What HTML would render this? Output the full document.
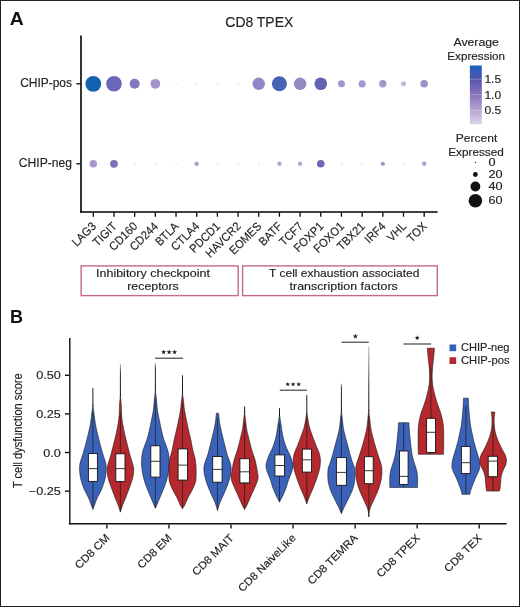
<!DOCTYPE html>
<html><head><meta charset="utf-8"><style>
html,body{margin:0;padding:0;background:#fff;}
#fig{position:relative;width:520px;height:607px;box-sizing:border-box;border:1px solid #222;overflow:hidden;}
svg{position:absolute;left:-1px;top:-1px;will-change:transform;}
text{font-family:"Liberation Sans",sans-serif;}
</style></head><body><div id="fig">
<svg width="520" height="607" viewBox="0 0 520 607" font-family="Liberation Sans, sans-serif">
<text x="259.30" y="26.90" font-size="15.1" text-anchor="middle" fill="#222" textLength="68" lengthAdjust="spacingAndGlyphs" stroke="#222" stroke-width="0.15">CD8 TPEX</text>
<text x="9.80" y="24.90" font-size="18.5" text-anchor="start" fill="#111" font-weight="bold" textLength="14.0" lengthAdjust="spacingAndGlyphs">A</text>
<line x1="81.00" y1="35.50" x2="81.00" y2="212.80" stroke="#000" stroke-width="1.6"/>
<line x1="80.20" y1="212.00" x2="437.60" y2="212.00" stroke="#000" stroke-width="1.5"/>
<line x1="76.40" y1="83.80" x2="80.20" y2="83.80" stroke="#000" stroke-width="1.3"/>
<text x="72.00" y="87.35" font-size="12.2" text-anchor="end" fill="#222" textLength="51.8" lengthAdjust="spacingAndGlyphs" stroke="#222" stroke-width="0.15">CHIP-pos</text>
<line x1="76.40" y1="163.80" x2="80.20" y2="163.80" stroke="#000" stroke-width="1.3"/>
<text x="72.00" y="167.35" font-size="12.2" text-anchor="end" fill="#222" textLength="53.2" lengthAdjust="spacingAndGlyphs" stroke="#222" stroke-width="0.15">CHIP-neg</text>
<line x1="93.30" y1="212.60" x2="93.30" y2="216.70" stroke="#000" stroke-width="1.3"/>
<line x1="113.98" y1="212.60" x2="113.98" y2="216.70" stroke="#000" stroke-width="1.3"/>
<line x1="134.66" y1="212.60" x2="134.66" y2="216.70" stroke="#000" stroke-width="1.3"/>
<line x1="155.34" y1="212.60" x2="155.34" y2="216.70" stroke="#000" stroke-width="1.3"/>
<line x1="176.02" y1="212.60" x2="176.02" y2="216.70" stroke="#000" stroke-width="1.3"/>
<line x1="196.70" y1="212.60" x2="196.70" y2="216.70" stroke="#000" stroke-width="1.3"/>
<line x1="217.38" y1="212.60" x2="217.38" y2="216.70" stroke="#000" stroke-width="1.3"/>
<line x1="238.06" y1="212.60" x2="238.06" y2="216.70" stroke="#000" stroke-width="1.3"/>
<line x1="258.74" y1="212.60" x2="258.74" y2="216.70" stroke="#000" stroke-width="1.3"/>
<line x1="279.42" y1="212.60" x2="279.42" y2="216.70" stroke="#000" stroke-width="1.3"/>
<line x1="300.10" y1="212.60" x2="300.10" y2="216.70" stroke="#000" stroke-width="1.3"/>
<line x1="320.78" y1="212.60" x2="320.78" y2="216.70" stroke="#000" stroke-width="1.3"/>
<line x1="341.46" y1="212.60" x2="341.46" y2="216.70" stroke="#000" stroke-width="1.3"/>
<line x1="362.14" y1="212.60" x2="362.14" y2="216.70" stroke="#000" stroke-width="1.3"/>
<line x1="382.82" y1="212.60" x2="382.82" y2="216.70" stroke="#000" stroke-width="1.3"/>
<line x1="403.50" y1="212.60" x2="403.50" y2="216.70" stroke="#000" stroke-width="1.3"/>
<line x1="424.18" y1="212.60" x2="424.18" y2="216.70" stroke="#000" stroke-width="1.3"/>
<circle cx="93.30" cy="83.8" r="7.9" fill="#1262b0"/>
<circle cx="93.30" cy="163.8" r="3.75" fill="#a898cc"/>
<circle cx="113.98" cy="83.8" r="7.8" fill="#6a68b8"/>
<circle cx="113.98" cy="163.8" r="3.9" fill="#7872b8"/>
<circle cx="134.66" cy="83.8" r="5.0" fill="#8477c0"/>
<circle cx="134.66" cy="163.8" r="0.8" fill="#d6d2e2"/>
<circle cx="155.34" cy="83.8" r="4.9" fill="#a494cc"/>
<circle cx="155.34" cy="163.8" r="0.8" fill="#d6d2e2"/>
<circle cx="176.02" cy="83.8" r="0.8" fill="#d6d2e2"/>
<circle cx="176.02" cy="163.8" r="0.8" fill="#d6d2e2"/>
<circle cx="196.70" cy="83.8" r="0.8" fill="#d6d2e2"/>
<circle cx="196.70" cy="163.8" r="2.3" fill="#aaa6c6"/>
<circle cx="217.38" cy="83.8" r="0.8" fill="#d6d2e2"/>
<circle cx="217.38" cy="163.8" r="0.8" fill="#d6d2e2"/>
<circle cx="238.06" cy="83.8" r="0.8" fill="#d6d2e2"/>
<circle cx="238.06" cy="163.8" r="0.8" fill="#d6d2e2"/>
<circle cx="258.74" cy="83.8" r="6.2" fill="#9485c4"/>
<circle cx="258.74" cy="163.8" r="0.8" fill="#d6d2e2"/>
<circle cx="279.42" cy="83.8" r="7.5" fill="#4863b3"/>
<circle cx="279.42" cy="163.8" r="2.2" fill="#b0a8cc"/>
<circle cx="300.10" cy="83.8" r="6.2" fill="#9687c5"/>
<circle cx="300.10" cy="163.8" r="2.2" fill="#b0a8cc"/>
<circle cx="320.78" cy="83.8" r="6.3" fill="#5e64b0"/>
<circle cx="320.78" cy="163.8" r="3.8" fill="#6c68b4"/>
<circle cx="341.46" cy="83.8" r="3.5" fill="#a696cc"/>
<circle cx="341.46" cy="163.8" r="0.8" fill="#d6d2e2"/>
<circle cx="362.14" cy="83.8" r="3.6" fill="#a696cc"/>
<circle cx="362.14" cy="163.8" r="0.8" fill="#d6d2e2"/>
<circle cx="382.82" cy="83.8" r="3.7" fill="#a696cc"/>
<circle cx="382.82" cy="163.8" r="2.1" fill="#9c98c0"/>
<circle cx="403.50" cy="83.8" r="2.5" fill="#c0bcd0"/>
<circle cx="403.50" cy="163.8" r="0.8" fill="#d6d2e2"/>
<circle cx="424.18" cy="83.8" r="3.8" fill="#a090c8"/>
<circle cx="424.18" cy="163.8" r="2.2" fill="#a8a4c8"/>
<text x="96.80" y="227.00" font-size="11.8" text-anchor="end" fill="#222" textLength="28.36" lengthAdjust="spacingAndGlyphs" transform="rotate(-45 96.80 227.00)" stroke="#222" stroke-width="0.15">LAG3</text>
<text x="117.48" y="227.00" font-size="11.8" text-anchor="end" fill="#222" textLength="28.34" lengthAdjust="spacingAndGlyphs" transform="rotate(-45 117.48 227.00)" stroke="#222" stroke-width="0.15">TIGIT</text>
<text x="138.16" y="227.00" font-size="11.8" text-anchor="end" fill="#222" textLength="34.53" lengthAdjust="spacingAndGlyphs" transform="rotate(-45 138.16 227.00)" stroke="#222" stroke-width="0.15">CD160</text>
<text x="158.84" y="227.00" font-size="11.8" text-anchor="end" fill="#222" textLength="34.53" lengthAdjust="spacingAndGlyphs" transform="rotate(-45 158.84 227.00)" stroke="#222" stroke-width="0.15">CD244</text>
<text x="179.52" y="227.00" font-size="11.8" text-anchor="end" fill="#222" textLength="27.74" lengthAdjust="spacingAndGlyphs" transform="rotate(-45 179.52 227.00)" stroke="#222" stroke-width="0.15">BTLA</text>
<text x="200.20" y="227.00" font-size="11.8" text-anchor="end" fill="#222" textLength="34.52" lengthAdjust="spacingAndGlyphs" transform="rotate(-45 200.20 227.00)" stroke="#222" stroke-width="0.15">CTLA4</text>
<text x="220.88" y="227.00" font-size="11.8" text-anchor="end" fill="#222" textLength="37.6" lengthAdjust="spacingAndGlyphs" transform="rotate(-45 220.88 227.00)" stroke="#222" stroke-width="0.15">PDCD1</text>
<text x="241.56" y="227.00" font-size="11.8" text-anchor="end" fill="#222" textLength="44.17" lengthAdjust="spacingAndGlyphs" transform="rotate(-45 241.56 227.00)" stroke="#222" stroke-width="0.15">HAVCR2</text>
<text x="262.24" y="227.00" font-size="11.8" text-anchor="end" fill="#222" textLength="40.06" lengthAdjust="spacingAndGlyphs" transform="rotate(-45 262.24 227.00)" stroke="#222" stroke-width="0.15">EOMES</text>
<text x="282.92" y="227.00" font-size="11.8" text-anchor="end" fill="#222" textLength="27.52" lengthAdjust="spacingAndGlyphs" transform="rotate(-45 282.92 227.00)" stroke="#222" stroke-width="0.15">BATF</text>
<text x="303.60" y="227.00" font-size="11.8" text-anchor="end" fill="#222" textLength="27.73" lengthAdjust="spacingAndGlyphs" transform="rotate(-45 303.60 227.00)" stroke="#222" stroke-width="0.15">TCF7</text>
<text x="324.28" y="227.00" font-size="11.8" text-anchor="end" fill="#222" textLength="36.37" lengthAdjust="spacingAndGlyphs" transform="rotate(-45 324.28 227.00)" stroke="#222" stroke-width="0.15">FOXP1</text>
<text x="344.96" y="227.00" font-size="11.8" text-anchor="end" fill="#222" textLength="37.6" lengthAdjust="spacingAndGlyphs" transform="rotate(-45 344.96 227.00)" stroke="#222" stroke-width="0.15">FOXO1</text>
<text x="365.64" y="227.00" font-size="11.8" text-anchor="end" fill="#222" textLength="33.91" lengthAdjust="spacingAndGlyphs" transform="rotate(-45 365.64 227.00)" stroke="#222" stroke-width="0.15">TBX21</text>
<text x="386.32" y="227.00" font-size="11.8" text-anchor="end" fill="#222" textLength="24.03" lengthAdjust="spacingAndGlyphs" transform="rotate(-45 386.32 227.00)" stroke="#222" stroke-width="0.15">IRF4</text>
<text x="407.00" y="227.00" font-size="11.8" text-anchor="end" fill="#222" textLength="21.58" lengthAdjust="spacingAndGlyphs" transform="rotate(-45 407.00 227.00)" stroke="#222" stroke-width="0.15">VHL</text>
<text x="427.68" y="227.00" font-size="11.8" text-anchor="end" fill="#222" textLength="22.6" lengthAdjust="spacingAndGlyphs" transform="rotate(-45 427.68 227.00)" stroke="#222" stroke-width="0.15">TOX</text>
<rect x="81.15" y="265.9" width="157" height="29.7" fill="none" stroke="#c46a82" stroke-width="1.4"/>
<rect x="242.6" y="265.9" width="194.7" height="29.7" fill="none" stroke="#c46a82" stroke-width="1.4"/>
<text x="153.00" y="277.30" font-size="11.3" text-anchor="middle" fill="#222" textLength="114" lengthAdjust="spacingAndGlyphs" stroke="#222" stroke-width="0.15">Inhibitory checkpoint</text>
<text x="153.00" y="290.10" font-size="11.3" text-anchor="middle" fill="#222" textLength="51.5" lengthAdjust="spacingAndGlyphs" stroke="#222" stroke-width="0.15">receptors</text>
<text x="344.20" y="277.30" font-size="11.3" text-anchor="middle" fill="#222" textLength="150.2" lengthAdjust="spacingAndGlyphs" stroke="#222" stroke-width="0.15">T cell exhaustion associated</text>
<text x="343.70" y="290.10" font-size="11.3" text-anchor="middle" fill="#222" textLength="108.2" lengthAdjust="spacingAndGlyphs" stroke="#222" stroke-width="0.15">transcription factors</text>
<text x="476.20" y="46.20" font-size="11.2" text-anchor="middle" fill="#222" textLength="45.5" lengthAdjust="spacingAndGlyphs" stroke="#222" stroke-width="0.15">Average</text>
<text x="476.20" y="60.00" font-size="11.2" text-anchor="middle" fill="#222" textLength="57.7" lengthAdjust="spacingAndGlyphs" stroke="#222" stroke-width="0.15">Expression</text>
<defs><linearGradient id="cb" x1="0" y1="1" x2="0" y2="0"><stop offset="0" stop-color="#dcd6e8"/><stop offset="0.229" stop-color="#bba6d4"/><stop offset="0.5" stop-color="#8a74bc"/><stop offset="0.77" stop-color="#5656ae"/><stop offset="1" stop-color="#1660bc"/></linearGradient></defs>
<rect x="469.9" y="65.5" width="11.9" height="58.8" fill="url(#cb)"/>
<line x1="469.9" y1="79.3" x2="481.8" y2="79.3" stroke="#fff" stroke-opacity="0.3" stroke-width="0.8"/>
<text x="484.40" y="83.25" font-size="11.5" text-anchor="start" fill="#222" textLength="16.78" lengthAdjust="spacingAndGlyphs" stroke="#222" stroke-width="0.15">1.5</text>
<line x1="469.9" y1="94.6" x2="481.8" y2="94.6" stroke="#fff" stroke-opacity="0.3" stroke-width="0.8"/>
<text x="484.40" y="98.55" font-size="11.5" text-anchor="start" fill="#222" textLength="16.78" lengthAdjust="spacingAndGlyphs" stroke="#222" stroke-width="0.15">1.0</text>
<line x1="469.9" y1="110.5" x2="481.8" y2="110.5" stroke="#fff" stroke-opacity="0.3" stroke-width="0.8"/>
<text x="484.40" y="114.45" font-size="11.5" text-anchor="start" fill="#222" textLength="16.78" lengthAdjust="spacingAndGlyphs" stroke="#222" stroke-width="0.15">0.5</text>
<text x="476.60" y="141.60" font-size="11.2" text-anchor="middle" fill="#222" textLength="41.5" lengthAdjust="spacingAndGlyphs" stroke="#222" stroke-width="0.15">Percent</text>
<text x="476.00" y="155.80" font-size="11.2" text-anchor="middle" fill="#222" textLength="55.7" lengthAdjust="spacingAndGlyphs" stroke="#222" stroke-width="0.15">Expressed</text>
<circle cx="475.4" cy="162.4" r="0.6" fill="#111"/>
<text x="488.50" y="166.10" font-size="10.6" text-anchor="start" fill="#222" textLength="7.07" lengthAdjust="spacingAndGlyphs" stroke="#222" stroke-width="0.15">0</text>
<circle cx="475.4" cy="174.5" r="2.4" fill="#111"/>
<text x="488.50" y="178.20" font-size="10.6" text-anchor="start" fill="#222" textLength="14.15" lengthAdjust="spacingAndGlyphs" stroke="#222" stroke-width="0.15">20</text>
<circle cx="475.4" cy="186.5" r="4.9" fill="#111"/>
<text x="488.50" y="190.20" font-size="10.6" text-anchor="start" fill="#222" textLength="14.15" lengthAdjust="spacingAndGlyphs" stroke="#222" stroke-width="0.15">40</text>
<circle cx="475.4" cy="200.7" r="6.8" fill="#111"/>
<text x="488.50" y="204.40" font-size="10.6" text-anchor="start" fill="#222" textLength="14.15" lengthAdjust="spacingAndGlyphs" stroke="#222" stroke-width="0.15">60</text>
<text x="9.90" y="322.60" font-size="17.9" text-anchor="start" fill="#111" font-weight="bold" textLength="13.0" lengthAdjust="spacingAndGlyphs">B</text>
<line x1="69.80" y1="338.00" x2="69.80" y2="524.40" stroke="#111" stroke-width="1.4"/>
<line x1="69.10" y1="523.70" x2="506.60" y2="523.70" stroke="#111" stroke-width="1.4"/>
<line x1="65.00" y1="375.30" x2="69.10" y2="375.30" stroke="#000" stroke-width="1.3"/>
<text x="60.90" y="379.40" font-size="11.5" text-anchor="end" fill="#222" textLength="24.62" lengthAdjust="spacingAndGlyphs" stroke="#222" stroke-width="0.15">0.50</text>
<line x1="65.00" y1="413.90" x2="69.10" y2="413.90" stroke="#000" stroke-width="1.3"/>
<text x="60.90" y="418.00" font-size="11.5" text-anchor="end" fill="#222" textLength="24.62" lengthAdjust="spacingAndGlyphs" stroke="#222" stroke-width="0.15">0.25</text>
<line x1="65.00" y1="452.50" x2="69.10" y2="452.50" stroke="#000" stroke-width="1.3"/>
<text x="60.90" y="456.60" font-size="11.5" text-anchor="end" fill="#222" textLength="17.58" lengthAdjust="spacingAndGlyphs" stroke="#222" stroke-width="0.15">0.0</text>
<line x1="65.00" y1="491.10" x2="69.10" y2="491.10" stroke="#000" stroke-width="1.3"/>
<text x="60.90" y="495.20" font-size="11.5" text-anchor="end" fill="#222" textLength="32.01" lengthAdjust="spacingAndGlyphs" stroke="#222" stroke-width="0.15">−0.25</text>
<text x="22.00" y="430.70" font-size="12.4" text-anchor="middle" fill="#222" textLength="114.6" lengthAdjust="spacingAndGlyphs" transform="rotate(-90 22.00 430.70)" stroke="#222" stroke-width="0.15">T cell dysfunction score</text>
<line x1="106.90" y1="524.40" x2="106.90" y2="528.60" stroke="#000" stroke-width="1.3"/>
<line x1="168.95" y1="524.40" x2="168.95" y2="528.60" stroke="#000" stroke-width="1.3"/>
<line x1="231.00" y1="524.40" x2="231.00" y2="528.60" stroke="#000" stroke-width="1.3"/>
<line x1="293.05" y1="524.40" x2="293.05" y2="528.60" stroke="#000" stroke-width="1.3"/>
<line x1="355.10" y1="524.40" x2="355.10" y2="528.60" stroke="#000" stroke-width="1.3"/>
<line x1="417.15" y1="524.40" x2="417.15" y2="528.60" stroke="#000" stroke-width="1.3"/>
<line x1="479.20" y1="524.40" x2="479.20" y2="528.60" stroke="#000" stroke-width="1.3"/>
<text x="110.30" y="538.60" font-size="10.9" text-anchor="end" fill="#222" textLength="43.87" lengthAdjust="spacingAndGlyphs" transform="rotate(-45 110.30 538.60)" stroke="#222" stroke-width="0.15">CD8 CM</text>
<text x="172.35" y="538.60" font-size="10.9" text-anchor="end" fill="#222" textLength="43.24" lengthAdjust="spacingAndGlyphs" transform="rotate(-45 172.35 538.60)" stroke="#222" stroke-width="0.15">CD8 EM</text>
<text x="234.40" y="538.60" font-size="10.9" text-anchor="end" fill="#222" textLength="53.41" lengthAdjust="spacingAndGlyphs" transform="rotate(-45 234.40 538.60)" stroke="#222" stroke-width="0.15">CD8 MAIT</text>
<text x="296.45" y="538.60" font-size="10.9" text-anchor="end" fill="#222" textLength="76.33" lengthAdjust="spacingAndGlyphs" transform="rotate(-45 296.45 538.60)" stroke="#222" stroke-width="0.15">CD8 NaiveLike</text>
<text x="358.50" y="538.60" font-size="10.9" text-anchor="end" fill="#222" textLength="65.92" lengthAdjust="spacingAndGlyphs" transform="rotate(-45 358.50 538.60)" stroke="#222" stroke-width="0.15">CD8 TEMRA</text>
<text x="420.55" y="538.60" font-size="10.9" text-anchor="end" fill="#222" textLength="55.76" lengthAdjust="spacingAndGlyphs" transform="rotate(-45 420.55 538.60)" stroke="#222" stroke-width="0.15">CD8 TPEX</text>
<text x="482.60" y="538.60" font-size="10.9" text-anchor="end" fill="#222" textLength="48.13" lengthAdjust="spacingAndGlyphs" transform="rotate(-45 482.60 538.60)" stroke="#222" stroke-width="0.15">CD8 TEX</text>
<rect x="449.5" y="344.5" width="6.7" height="6.7" fill="#3462b8"/>
<rect x="449.5" y="357.3" width="6.7" height="6.7" fill="#b0282e"/>
<text x="461.00" y="351.20" font-size="10.6" text-anchor="start" fill="#222" textLength="48.5" lengthAdjust="spacingAndGlyphs" stroke="#222" stroke-width="0.15">CHIP-neg</text>
<text x="461.00" y="363.90" font-size="10.6" text-anchor="start" fill="#222" textLength="48.5" lengthAdjust="spacingAndGlyphs" stroke="#222" stroke-width="0.15">CHIP-pos</text>
<path d="M92.90,405.00 L92.90,405.00 C93.12,406.67 93.75,411.67 94.20,415.00 C94.65,418.33 95.00,421.67 95.60,425.00 C96.20,428.33 97.02,431.67 97.80,435.00 C98.58,438.33 99.40,441.67 100.30,445.00 C101.20,448.33 102.30,452.00 103.20,455.00 C104.10,458.00 105.20,460.83 105.70,463.00 C106.20,465.17 106.18,466.00 106.20,468.00 C106.22,470.00 106.13,472.67 105.80,475.00 C105.47,477.33 104.95,479.50 104.20,482.00 C103.45,484.50 102.47,487.33 101.30,490.00 C100.13,492.67 98.32,495.50 97.20,498.00 C96.08,500.50 95.32,503.12 94.60,505.00 C93.88,506.88 93.18,508.58 92.90,509.30 L92.90,509.30 C92.62,508.58 91.92,506.88 91.20,505.00 C90.48,503.12 89.72,500.50 88.60,498.00 C87.48,495.50 85.67,492.67 84.50,490.00 C83.33,487.33 82.35,484.50 81.60,482.00 C80.85,479.50 80.33,477.33 80.00,475.00 C79.67,472.67 79.58,470.00 79.60,468.00 C79.62,466.00 79.60,465.17 80.10,463.00 C80.60,460.83 81.70,458.00 82.60,455.00 C83.50,452.00 84.60,448.33 85.50,445.00 C86.40,441.67 87.22,438.33 88.00,435.00 C88.78,431.67 89.60,428.33 90.20,425.00 C90.80,421.67 91.15,418.33 91.60,415.00 C92.05,411.67 92.68,406.67 92.90,405.00 Z" fill="#3a62b8" stroke="#111" stroke-width="0.55" stroke-linejoin="round"/>
<linearGradient id="tg133" gradientUnits="userSpaceOnUse" x1="0" y1="387.7" x2="0" y2="405"><stop offset="0" stop-color="#b8b8b8"/><stop offset="0.000" stop-color="#2a2a2a"/><stop offset="1" stop-color="#111"/></linearGradient>
<line x1="92.90" y1="387.70" x2="92.90" y2="406.00" stroke="url(#tg133)" stroke-width="1.0"/>
<line x1="92.90" y1="411.65" x2="92.90" y2="509.30" stroke="#1a1a1a" stroke-width="0.7"/>
<rect x="88.40" y="453.50" width="9.00" height="27.90" fill="#fff" stroke="#151515" stroke-width="0.9"/>
<line x1="88.40" y1="468.60" x2="97.40" y2="468.60" stroke="#222" stroke-width="0.9"/>
<path d="M120.40,395.00 L120.40,395.00 C120.55,396.67 121.10,401.67 121.30,405.00 C121.50,408.33 121.33,411.67 121.60,415.00 C121.87,418.33 122.35,421.67 122.90,425.00 C123.45,428.33 124.15,431.67 124.90,435.00 C125.65,438.33 126.55,441.67 127.40,445.00 C128.25,448.33 129.17,452.00 130.00,455.00 C130.83,458.00 131.78,460.83 132.40,463.00 C133.02,465.17 133.55,466.00 133.70,468.00 C133.85,470.00 133.67,472.67 133.30,475.00 C132.93,477.33 132.28,479.50 131.50,482.00 C130.72,484.50 129.58,487.33 128.60,490.00 C127.62,492.67 126.58,495.50 125.60,498.00 C124.62,500.50 123.57,502.65 122.70,505.00 C121.83,507.35 120.78,510.92 120.40,512.10 L120.40,512.10 C120.02,510.92 118.97,507.35 118.10,505.00 C117.23,502.65 116.18,500.50 115.20,498.00 C114.22,495.50 113.18,492.67 112.20,490.00 C111.22,487.33 110.08,484.50 109.30,482.00 C108.52,479.50 107.87,477.33 107.50,475.00 C107.13,472.67 106.95,470.00 107.10,468.00 C107.25,466.00 107.78,465.17 108.40,463.00 C109.02,460.83 109.97,458.00 110.80,455.00 C111.63,452.00 112.55,448.33 113.40,445.00 C114.25,441.67 115.15,438.33 115.90,435.00 C116.65,431.67 117.35,428.33 117.90,425.00 C118.45,421.67 118.93,418.33 119.20,415.00 C119.47,411.67 119.30,408.33 119.50,405.00 C119.70,401.67 120.25,396.67 120.40,395.00 Z" fill="#b4282e" stroke="#111" stroke-width="0.55" stroke-linejoin="round"/>
<linearGradient id="tg139" gradientUnits="userSpaceOnUse" x1="0" y1="364" x2="0" y2="395"><stop offset="0" stop-color="#b8b8b8"/><stop offset="0.290" stop-color="#2a2a2a"/><stop offset="1" stop-color="#111"/></linearGradient>
<line x1="120.40" y1="364.00" x2="120.40" y2="396.00" stroke="url(#tg139)" stroke-width="1.0"/>
<line x1="120.40" y1="412.10" x2="120.40" y2="512.10" stroke="#1a1a1a" stroke-width="0.7"/>
<rect x="115.80" y="453.80" width="9.20" height="27.80" fill="#fff" stroke="#151515" stroke-width="0.9"/>
<line x1="115.80" y1="468.60" x2="125.00" y2="468.60" stroke="#222" stroke-width="0.9"/>
<path d="M155.40,390.00 L155.40,390.00 C155.58,391.67 156.17,396.67 156.50,400.00 C156.83,403.33 156.93,406.67 157.40,410.00 C157.87,413.33 158.63,416.67 159.30,420.00 C159.97,423.33 160.62,426.67 161.40,430.00 C162.18,433.33 162.95,436.67 164.00,440.00 C165.05,443.33 166.85,447.00 167.70,450.00 C168.55,453.00 168.86,455.33 169.10,458.00 C169.34,460.67 169.35,463.17 169.15,466.00 C168.95,468.83 168.58,471.83 167.90,475.00 C167.22,478.17 166.25,481.67 165.10,485.00 C163.95,488.33 162.23,492.00 161.00,495.00 C159.77,498.00 158.63,500.80 157.70,503.00 C156.77,505.20 155.78,507.33 155.40,508.20 L155.40,508.20 C155.02,507.33 154.03,505.20 153.10,503.00 C152.17,500.80 151.03,498.00 149.80,495.00 C148.57,492.00 146.85,488.33 145.70,485.00 C144.55,481.67 143.58,478.17 142.90,475.00 C142.22,471.83 141.85,468.83 141.65,466.00 C141.45,463.17 141.46,460.67 141.70,458.00 C141.94,455.33 142.25,453.00 143.10,450.00 C143.95,447.00 145.75,443.33 146.80,440.00 C147.85,436.67 148.62,433.33 149.40,430.00 C150.18,426.67 150.83,423.33 151.50,420.00 C152.17,416.67 152.93,413.33 153.40,410.00 C153.87,406.67 153.97,403.33 154.30,400.00 C154.63,396.67 155.22,391.67 155.40,390.00 Z" fill="#3a62b8" stroke="#111" stroke-width="0.55" stroke-linejoin="round"/>
<linearGradient id="tg145" gradientUnits="userSpaceOnUse" x1="0" y1="363" x2="0" y2="390"><stop offset="0" stop-color="#b8b8b8"/><stop offset="0.185" stop-color="#2a2a2a"/><stop offset="1" stop-color="#111"/></linearGradient>
<line x1="155.40" y1="363.00" x2="155.40" y2="391.00" stroke="url(#tg145)" stroke-width="1.0"/>
<line x1="155.40" y1="398.85" x2="155.40" y2="508.20" stroke="#1a1a1a" stroke-width="0.7"/>
<rect x="150.80" y="445.80" width="9.20" height="31.30" fill="#fff" stroke="#151515" stroke-width="0.9"/>
<line x1="150.80" y1="461.30" x2="160.00" y2="461.30" stroke="#222" stroke-width="0.9"/>
<path d="M182.50,393.00 L182.50,393.00 C182.65,394.17 183.07,397.17 183.40,400.00 C183.73,402.83 184.00,406.67 184.50,410.00 C185.00,413.33 185.73,416.67 186.40,420.00 C187.07,423.33 187.75,426.67 188.50,430.00 C189.25,433.33 190.18,436.67 190.90,440.00 C191.62,443.33 192.12,447.00 192.80,450.00 C193.48,453.00 194.47,455.33 195.00,458.00 C195.53,460.67 195.81,463.17 196.00,466.00 C196.19,468.83 196.23,472.33 196.15,475.00 C196.07,477.67 196.16,479.50 195.50,482.00 C194.84,484.50 193.47,487.33 192.20,490.00 C190.93,492.67 189.13,495.50 187.90,498.00 C186.67,500.50 185.70,503.22 184.80,505.00 C183.90,506.78 182.88,508.08 182.50,508.70 L182.50,508.70 C182.12,508.08 181.10,506.78 180.20,505.00 C179.30,503.22 178.33,500.50 177.10,498.00 C175.87,495.50 174.07,492.67 172.80,490.00 C171.53,487.33 170.16,484.50 169.50,482.00 C168.84,479.50 168.93,477.67 168.85,475.00 C168.77,472.33 168.81,468.83 169.00,466.00 C169.19,463.17 169.47,460.67 170.00,458.00 C170.53,455.33 171.52,453.00 172.20,450.00 C172.88,447.00 173.38,443.33 174.10,440.00 C174.82,436.67 175.75,433.33 176.50,430.00 C177.25,426.67 177.93,423.33 178.60,420.00 C179.27,416.67 180.00,413.33 180.50,410.00 C181.00,406.67 181.27,402.83 181.60,400.00 C181.93,397.17 182.35,394.17 182.50,393.00 Z" fill="#b4282e" stroke="#111" stroke-width="0.55" stroke-linejoin="round"/>
<linearGradient id="tg151" gradientUnits="userSpaceOnUse" x1="0" y1="375.3" x2="0" y2="393"><stop offset="0" stop-color="#b8b8b8"/><stop offset="0.000" stop-color="#2a2a2a"/><stop offset="1" stop-color="#111"/></linearGradient>
<line x1="182.50" y1="375.30" x2="182.50" y2="394.00" stroke="url(#tg151)" stroke-width="1.0"/>
<line x1="182.50" y1="402.10" x2="182.50" y2="508.70" stroke="#1a1a1a" stroke-width="0.7"/>
<rect x="178.10" y="448.90" width="9.40" height="31.20" fill="#fff" stroke="#151515" stroke-width="0.9"/>
<line x1="178.10" y1="465.10" x2="187.50" y2="465.10" stroke="#222" stroke-width="0.9"/>
<path d="M216.40,413.30 L218.60,413.30 C218.78,414.93 219.20,419.95 219.70,423.10 C220.20,426.25 220.92,429.17 221.60,432.20 C222.28,435.23 223.05,438.28 223.80,441.30 C224.55,444.32 225.52,448.02 226.10,450.30 C226.68,452.58 226.78,453.38 227.30,455.00 C227.82,456.62 228.57,458.00 229.20,460.00 C229.83,462.00 230.88,464.50 231.10,467.00 C231.32,469.50 231.08,472.00 230.50,475.00 C229.92,478.00 228.78,481.67 227.60,485.00 C226.42,488.33 224.70,492.00 223.40,495.00 C222.10,498.00 220.78,500.43 219.80,503.00 C218.82,505.57 217.88,509.17 217.50,510.40 L217.50,510.40 C217.12,509.17 216.18,505.57 215.20,503.00 C214.22,500.43 212.90,498.00 211.60,495.00 C210.30,492.00 208.58,488.33 207.40,485.00 C206.22,481.67 205.08,478.00 204.50,475.00 C203.92,472.00 203.68,469.50 203.90,467.00 C204.12,464.50 205.17,462.00 205.80,460.00 C206.43,458.00 207.18,456.62 207.70,455.00 C208.22,453.38 208.32,452.58 208.90,450.30 C209.48,448.02 210.45,444.32 211.20,441.30 C211.95,438.28 212.72,435.23 213.40,432.20 C214.08,429.17 214.80,426.25 215.30,423.10 C215.80,419.95 216.22,414.93 216.40,413.30 Z" fill="#3a62b8" stroke="#111" stroke-width="0.55" stroke-linejoin="round"/>
<line x1="217.50" y1="417.95" x2="217.50" y2="510.40" stroke="#1a1a1a" stroke-width="0.7"/>
<rect x="212.70" y="456.50" width="9.40" height="25.70" fill="#fff" stroke="#151515" stroke-width="0.9"/>
<line x1="212.70" y1="469.40" x2="222.10" y2="469.40" stroke="#222" stroke-width="0.9"/>
<path d="M244.60,412.00 L244.60,412.00 C244.78,413.50 245.37,418.20 245.70,421.00 C246.03,423.80 246.13,426.13 246.60,428.80 C247.07,431.47 247.63,433.47 248.50,437.00 C249.37,440.53 250.70,446.17 251.80,450.00 C252.90,453.83 254.22,456.67 255.10,460.00 C255.98,463.33 256.60,467.00 257.10,470.00 C257.60,473.00 258.30,475.50 258.10,478.00 C257.90,480.50 257.02,482.17 255.90,485.00 C254.78,487.83 252.88,491.67 251.40,495.00 C249.92,498.33 248.13,502.60 247.00,505.00 C245.87,507.40 245.00,508.67 244.60,509.40 L244.60,509.40 C244.20,508.67 243.33,507.40 242.20,505.00 C241.07,502.60 239.28,498.33 237.80,495.00 C236.32,491.67 234.42,487.83 233.30,485.00 C232.18,482.17 231.30,480.50 231.10,478.00 C230.90,475.50 231.60,473.00 232.10,470.00 C232.60,467.00 233.22,463.33 234.10,460.00 C234.98,456.67 236.30,453.83 237.40,450.00 C238.50,446.17 239.83,440.53 240.70,437.00 C241.57,433.47 242.13,431.47 242.60,428.80 C243.07,426.13 243.17,423.80 243.50,421.00 C243.83,418.20 244.42,413.50 244.60,412.00 Z" fill="#b4282e" stroke="#111" stroke-width="0.55" stroke-linejoin="round"/>
<linearGradient id="tg161" gradientUnits="userSpaceOnUse" x1="0" y1="406.4" x2="0" y2="412"><stop offset="0" stop-color="#b8b8b8"/><stop offset="0.000" stop-color="#2a2a2a"/><stop offset="1" stop-color="#111"/></linearGradient>
<line x1="244.60" y1="406.40" x2="244.60" y2="413.00" stroke="url(#tg161)" stroke-width="1.0"/>
<line x1="244.60" y1="422.40" x2="244.60" y2="509.40" stroke="#1a1a1a" stroke-width="0.7"/>
<rect x="239.90" y="458.70" width="9.50" height="24.20" fill="#fff" stroke="#151515" stroke-width="0.9"/>
<line x1="239.90" y1="471.80" x2="249.40" y2="471.80" stroke="#222" stroke-width="0.9"/>
<path d="M279.50,415.00 L279.50,415.00 C279.77,416.67 280.67,422.17 281.10,425.00 C281.53,427.83 281.65,429.50 282.10,432.00 C282.55,434.50 283.07,437.33 283.80,440.00 C284.53,442.67 285.48,445.50 286.50,448.00 C287.52,450.50 288.92,452.67 289.90,455.00 C290.88,457.33 291.83,460.00 292.35,462.00 C292.87,464.00 293.18,465.17 293.00,467.00 C292.82,468.83 292.05,470.83 291.30,473.00 C290.55,475.17 289.37,477.50 288.50,480.00 C287.63,482.50 287.00,485.50 286.10,488.00 C285.20,490.50 284.20,492.65 283.10,495.00 C282.00,497.35 280.10,500.92 279.50,502.10 L279.50,502.10 C278.90,500.92 277.00,497.35 275.90,495.00 C274.80,492.65 273.80,490.50 272.90,488.00 C272.00,485.50 271.37,482.50 270.50,480.00 C269.63,477.50 268.45,475.17 267.70,473.00 C266.95,470.83 266.18,468.83 266.00,467.00 C265.82,465.17 266.13,464.00 266.65,462.00 C267.17,460.00 268.12,457.33 269.10,455.00 C270.08,452.67 271.48,450.50 272.50,448.00 C273.52,445.50 274.47,442.67 275.20,440.00 C275.93,437.33 276.45,434.50 276.90,432.00 C277.35,429.50 277.47,427.83 277.90,425.00 C278.33,422.17 279.23,416.67 279.50,415.00 Z" fill="#3a62b8" stroke="#111" stroke-width="0.55" stroke-linejoin="round"/>
<linearGradient id="tg167" gradientUnits="userSpaceOnUse" x1="0" y1="408.2" x2="0" y2="415"><stop offset="0" stop-color="#b8b8b8"/><stop offset="0.000" stop-color="#2a2a2a"/><stop offset="1" stop-color="#111"/></linearGradient>
<line x1="279.50" y1="408.20" x2="279.50" y2="416.00" stroke="url(#tg167)" stroke-width="1.0"/>
<line x1="279.50" y1="423.25" x2="279.50" y2="502.10" stroke="#1a1a1a" stroke-width="0.7"/>
<rect x="274.90" y="454.90" width="9.60" height="21.10" fill="#fff" stroke="#151515" stroke-width="0.9"/>
<line x1="274.90" y1="465.50" x2="284.50" y2="465.50" stroke="#222" stroke-width="0.9"/>
<path d="M306.80,413.00 L306.80,413.00 C307.00,414.17 307.57,417.67 308.00,420.00 C308.43,422.33 308.72,424.50 309.40,427.00 C310.08,429.50 311.22,432.50 312.10,435.00 C312.98,437.50 313.87,439.83 314.70,442.00 C315.53,444.17 316.42,446.33 317.10,448.00 C317.78,449.67 318.27,450.33 318.80,452.00 C319.33,453.67 320.07,455.83 320.30,458.00 C320.53,460.17 320.45,462.67 320.20,465.00 C319.95,467.33 319.47,469.50 318.80,472.00 C318.13,474.50 317.13,477.33 316.20,480.00 C315.27,482.67 314.22,485.50 313.20,488.00 C312.18,490.50 311.17,492.38 310.10,495.00 C309.03,497.62 307.35,502.25 306.80,503.70 L306.80,503.70 C306.25,502.25 304.57,497.62 303.50,495.00 C302.43,492.38 301.42,490.50 300.40,488.00 C299.38,485.50 298.33,482.67 297.40,480.00 C296.47,477.33 295.47,474.50 294.80,472.00 C294.13,469.50 293.65,467.33 293.40,465.00 C293.15,462.67 293.07,460.17 293.30,458.00 C293.53,455.83 294.27,453.67 294.80,452.00 C295.33,450.33 295.82,449.67 296.50,448.00 C297.18,446.33 298.07,444.17 298.90,442.00 C299.73,439.83 300.62,437.50 301.50,435.00 C302.38,432.50 303.52,429.50 304.20,427.00 C304.88,424.50 305.17,422.33 305.60,420.00 C306.03,417.67 306.60,414.17 306.80,413.00 Z" fill="#b4282e" stroke="#111" stroke-width="0.55" stroke-linejoin="round"/>
<linearGradient id="tg173" gradientUnits="userSpaceOnUse" x1="0" y1="394.9" x2="0" y2="413"><stop offset="0" stop-color="#b8b8b8"/><stop offset="0.000" stop-color="#2a2a2a"/><stop offset="1" stop-color="#111"/></linearGradient>
<line x1="306.80" y1="394.90" x2="306.80" y2="414.00" stroke="url(#tg173)" stroke-width="1.0"/>
<line x1="306.80" y1="414.60" x2="306.80" y2="503.70" stroke="#1a1a1a" stroke-width="0.7"/>
<rect x="302.30" y="449.10" width="9.20" height="23.00" fill="#fff" stroke="#151515" stroke-width="0.9"/>
<line x1="302.30" y1="459.80" x2="311.50" y2="459.80" stroke="#222" stroke-width="0.9"/>
<path d="M341.40,410.00 L341.40,410.00 C341.57,411.67 342.12,417.00 342.45,420.00 C342.77,423.00 342.94,425.50 343.35,428.00 C343.76,430.50 344.19,432.17 344.90,435.00 C345.61,437.83 346.71,441.67 347.60,445.00 C348.49,448.33 349.40,452.00 350.25,455.00 C351.10,458.00 351.98,460.83 352.70,463.00 C353.42,465.17 354.17,466.00 354.55,468.00 C354.93,470.00 355.00,472.67 355.00,475.00 C355.00,477.33 354.98,479.50 354.55,482.00 C354.12,484.50 353.36,487.33 352.40,490.00 C351.44,492.67 349.99,495.50 348.80,498.00 C347.61,500.50 346.23,503.00 345.25,505.00 C344.27,507.00 343.54,508.58 342.90,510.00 C342.26,511.42 341.65,512.92 341.40,513.50 L341.40,513.50 C341.15,512.92 340.54,511.42 339.90,510.00 C339.26,508.58 338.53,507.00 337.55,505.00 C336.57,503.00 335.19,500.50 334.00,498.00 C332.81,495.50 331.36,492.67 330.40,490.00 C329.44,487.33 328.68,484.50 328.25,482.00 C327.82,479.50 327.80,477.33 327.80,475.00 C327.80,472.67 327.87,470.00 328.25,468.00 C328.63,466.00 329.38,465.17 330.10,463.00 C330.82,460.83 331.70,458.00 332.55,455.00 C333.40,452.00 334.31,448.33 335.20,445.00 C336.09,441.67 337.19,437.83 337.90,435.00 C338.61,432.17 339.04,430.50 339.45,428.00 C339.86,425.50 340.02,423.00 340.35,420.00 C340.67,417.00 341.22,411.67 341.40,410.00 Z" fill="#3a62b8" stroke="#111" stroke-width="0.55" stroke-linejoin="round"/>
<linearGradient id="tg179" gradientUnits="userSpaceOnUse" x1="0" y1="383.5" x2="0" y2="410"><stop offset="0" stop-color="#b8b8b8"/><stop offset="0.170" stop-color="#2a2a2a"/><stop offset="1" stop-color="#111"/></linearGradient>
<line x1="341.40" y1="383.50" x2="341.40" y2="411.00" stroke="url(#tg179)" stroke-width="1.0"/>
<line x1="341.40" y1="416.05" x2="341.40" y2="513.50" stroke="#1a1a1a" stroke-width="0.7"/>
<rect x="336.40" y="457.60" width="10.00" height="27.70" fill="#fff" stroke="#151515" stroke-width="0.9"/>
<line x1="336.40" y1="472.40" x2="346.40" y2="472.40" stroke="#222" stroke-width="0.9"/>
<path d="M368.80,410.00 L368.80,410.00 C368.98,411.67 369.52,417.00 369.85,420.00 C370.18,423.00 370.39,425.50 370.80,428.00 C371.21,430.50 371.60,432.17 372.30,435.00 C373.00,437.83 374.03,441.67 375.00,445.00 C375.97,448.33 377.13,452.00 378.10,455.00 C379.07,458.00 380.18,460.83 380.80,463.00 C381.42,465.17 381.63,466.00 381.80,468.00 C381.97,470.00 381.99,472.67 381.80,475.00 C381.61,477.33 381.25,479.50 380.65,482.00 C380.05,484.50 379.19,487.33 378.20,490.00 C377.21,492.67 375.82,495.50 374.70,498.00 C373.58,500.50 372.35,503.00 371.50,505.00 C370.65,507.00 370.05,508.03 369.60,510.00 C369.15,511.97 368.93,515.67 368.80,516.80 L368.80,516.80 C368.67,515.67 368.45,511.97 368.00,510.00 C367.55,508.03 366.95,507.00 366.10,505.00 C365.25,503.00 364.02,500.50 362.90,498.00 C361.78,495.50 360.39,492.67 359.40,490.00 C358.41,487.33 357.55,484.50 356.95,482.00 C356.35,479.50 355.99,477.33 355.80,475.00 C355.61,472.67 355.63,470.00 355.80,468.00 C355.97,466.00 356.18,465.17 356.80,463.00 C357.42,460.83 358.53,458.00 359.50,455.00 C360.47,452.00 361.63,448.33 362.60,445.00 C363.57,441.67 364.60,437.83 365.30,435.00 C366.00,432.17 366.39,430.50 366.80,428.00 C367.21,425.50 367.42,423.00 367.75,420.00 C368.08,417.00 368.62,411.67 368.80,410.00 Z" fill="#b4282e" stroke="#111" stroke-width="0.55" stroke-linejoin="round"/>
<linearGradient id="tg185" gradientUnits="userSpaceOnUse" x1="0" y1="346.5" x2="0" y2="410"><stop offset="0" stop-color="#b8b8b8"/><stop offset="0.654" stop-color="#2a2a2a"/><stop offset="1" stop-color="#111"/></linearGradient>
<line x1="368.80" y1="346.50" x2="368.80" y2="411.00" stroke="url(#tg185)" stroke-width="1.0"/>
<line x1="368.80" y1="416.20" x2="368.80" y2="516.80" stroke="#1a1a1a" stroke-width="0.7"/>
<rect x="364.40" y="456.70" width="8.80" height="27.00" fill="#fff" stroke="#151515" stroke-width="0.9"/>
<line x1="364.40" y1="470.70" x2="373.20" y2="470.70" stroke="#222" stroke-width="0.9"/>
<path d="M398.50,422.70 L408.90,422.70 C408.97,423.92 409.07,427.12 409.30,430.00 C409.53,432.88 409.90,436.67 410.25,440.00 C410.60,443.33 410.97,447.00 411.40,450.00 C411.82,453.00 412.15,455.33 412.80,458.00 C413.45,460.67 414.60,463.67 415.30,466.00 C416.00,468.33 416.62,470.00 417.00,472.00 C417.38,474.00 417.50,475.43 417.60,478.00 C417.70,480.57 417.60,485.83 417.60,487.40 L389.80,487.40 C389.80,485.83 389.70,480.57 389.80,478.00 C389.90,475.43 390.02,474.00 390.40,472.00 C390.78,470.00 391.40,468.33 392.10,466.00 C392.80,463.67 393.95,460.67 394.60,458.00 C395.25,455.33 395.57,453.00 396.00,450.00 C396.43,447.00 396.80,443.33 397.15,440.00 C397.50,436.67 397.87,432.88 398.10,430.00 C398.32,427.12 398.43,423.92 398.50,422.70 Z" fill="#3a62b8" stroke="#111" stroke-width="0.55" stroke-linejoin="round"/>
<line x1="403.70" y1="422.70" x2="403.70" y2="487.40" stroke="#1a1a1a" stroke-width="0.7"/>
<rect x="399.50" y="451.00" width="8.60" height="33.40" fill="#fff" stroke="#151515" stroke-width="0.9"/>
<line x1="399.50" y1="476.40" x2="408.10" y2="476.40" stroke="#222" stroke-width="0.9"/>
<path d="M427.30,348.20 L434.50,348.20 C434.40,349.33 434.12,352.70 433.90,355.00 C433.67,357.30 433.40,359.50 433.15,362.00 C432.90,364.50 432.57,367.33 432.40,370.00 C432.23,372.67 432.10,375.50 432.15,378.00 C432.20,380.50 432.38,382.67 432.70,385.00 C433.02,387.33 433.52,389.50 434.10,392.00 C434.68,394.50 435.46,397.50 436.20,400.00 C436.94,402.50 437.70,404.50 438.55,407.00 C439.40,409.50 440.51,412.00 441.30,415.00 C442.09,418.00 442.90,421.67 443.30,425.00 C443.70,428.33 443.63,431.67 443.70,435.00 C443.77,438.33 443.73,441.78 443.70,445.00 C443.67,448.22 443.53,452.75 443.50,454.30 L418.30,454.30 C418.27,452.75 418.13,448.22 418.10,445.00 C418.07,441.78 418.03,438.33 418.10,435.00 C418.17,431.67 418.10,428.33 418.50,425.00 C418.90,421.67 419.71,418.00 420.50,415.00 C421.29,412.00 422.40,409.50 423.25,407.00 C424.10,404.50 424.86,402.50 425.60,400.00 C426.34,397.50 427.12,394.50 427.70,392.00 C428.28,389.50 428.77,387.33 429.10,385.00 C429.42,382.67 429.60,380.50 429.65,378.00 C429.70,375.50 429.57,372.67 429.40,370.00 C429.23,367.33 428.90,364.50 428.65,362.00 C428.40,359.50 428.12,357.30 427.90,355.00 C427.67,352.70 427.40,349.33 427.30,348.20 Z" fill="#b4282e" stroke="#111" stroke-width="0.55" stroke-linejoin="round"/>
<line x1="430.90" y1="367.15" x2="430.90" y2="454.30" stroke="#1a1a1a" stroke-width="0.7"/>
<rect x="426.60" y="418.30" width="8.90" height="34.10" fill="#fff" stroke="#151515" stroke-width="0.9"/>
<line x1="426.60" y1="432.30" x2="435.50" y2="432.30" stroke="#222" stroke-width="0.9"/>
<path d="M463.45,398.20 L468.35,398.20 C468.39,399.33 468.42,402.20 468.60,405.00 C468.77,407.80 469.09,411.67 469.40,415.00 C469.71,418.33 469.93,421.67 470.45,425.00 C470.97,428.33 471.99,432.50 472.50,435.00 C473.01,437.50 473.10,438.33 473.50,440.00 C473.90,441.67 474.43,443.33 474.90,445.00 C475.37,446.67 475.67,447.83 476.30,450.00 C476.93,452.17 478.10,455.50 478.70,458.00 C479.30,460.50 479.82,463.00 479.90,465.00 C479.98,467.00 479.93,467.83 479.20,470.00 C478.47,472.17 476.65,475.33 475.50,478.00 C474.35,480.67 473.17,483.67 472.30,486.00 C471.43,488.33 470.70,490.62 470.30,492.00 C469.90,493.38 469.97,493.92 469.90,494.30 L461.90,494.30 C461.83,493.92 461.90,493.38 461.50,492.00 C461.10,490.62 460.37,488.33 459.50,486.00 C458.63,483.67 457.45,480.67 456.30,478.00 C455.15,475.33 453.33,472.17 452.60,470.00 C451.87,467.83 451.82,467.00 451.90,465.00 C451.98,463.00 452.50,460.50 453.10,458.00 C453.70,455.50 454.87,452.17 455.50,450.00 C456.13,447.83 456.43,446.67 456.90,445.00 C457.37,443.33 457.90,441.67 458.30,440.00 C458.70,438.33 458.79,437.50 459.30,435.00 C459.81,432.50 460.83,428.33 461.35,425.00 C461.87,421.67 462.09,418.33 462.40,415.00 C462.71,411.67 463.02,407.80 463.20,405.00 C463.38,402.20 463.41,399.33 463.45,398.20 Z" fill="#3a62b8" stroke="#111" stroke-width="0.55" stroke-linejoin="round"/>
<line x1="465.90" y1="405.60" x2="465.90" y2="494.30" stroke="#1a1a1a" stroke-width="0.7"/>
<rect x="461.40" y="446.40" width="8.80" height="27.20" fill="#fff" stroke="#151515" stroke-width="0.9"/>
<line x1="461.40" y1="462.70" x2="470.20" y2="462.70" stroke="#222" stroke-width="0.9"/>
<path d="M491.30,412.00 L494.90,412.00 C494.79,413.00 494.36,415.83 494.25,418.00 C494.14,420.17 494.08,422.67 494.25,425.00 C494.42,427.33 494.66,429.50 495.25,432.00 C495.84,434.50 496.77,437.33 497.80,440.00 C498.83,442.67 500.22,445.50 501.45,448.00 C502.68,450.50 504.37,453.00 505.20,455.00 C506.03,457.00 506.37,458.33 506.45,460.00 C506.53,461.67 506.23,463.33 505.70,465.00 C505.18,466.67 504.04,468.17 503.30,470.00 C502.56,471.83 501.68,474.00 501.25,476.00 C500.82,478.00 500.89,480.00 500.70,482.00 C500.51,484.00 500.30,486.48 500.10,488.00 C499.90,489.52 499.60,490.58 499.50,491.10 L486.70,491.10 C486.60,490.58 486.30,489.52 486.10,488.00 C485.90,486.48 485.69,484.00 485.50,482.00 C485.31,480.00 485.38,478.00 484.95,476.00 C484.52,474.00 483.64,471.83 482.90,470.00 C482.16,468.17 481.02,466.67 480.50,465.00 C479.98,463.33 479.67,461.67 479.75,460.00 C479.83,458.33 480.17,457.00 481.00,455.00 C481.83,453.00 483.52,450.50 484.75,448.00 C485.98,445.50 487.37,442.67 488.40,440.00 C489.43,437.33 490.36,434.50 490.95,432.00 C491.54,429.50 491.78,427.33 491.95,425.00 C492.12,422.67 492.06,420.17 491.95,418.00 C491.84,415.83 491.41,413.00 491.30,412.00 Z" fill="#b4282e" stroke="#111" stroke-width="0.55" stroke-linejoin="round"/>
<line x1="493.10" y1="425.70" x2="493.10" y2="491.10" stroke="#1a1a1a" stroke-width="0.7"/>
<rect x="488.20" y="456.30" width="9.30" height="20.40" fill="#fff" stroke="#151515" stroke-width="0.9"/>
<line x1="488.20" y1="461.10" x2="497.50" y2="461.10" stroke="#222" stroke-width="0.9"/>
<line x1="155.00" y1="358.20" x2="183.10" y2="358.20" stroke="#333" stroke-width="1.1"/>
<polygon points="163.70,349.46 164.34,351.18 166.17,351.26 164.74,352.40 165.23,354.16 163.70,353.15 162.17,354.16 162.66,352.40 161.23,351.26 163.06,351.18" fill="#1a1a1a"/>
<polygon points="169.10,349.46 169.74,351.18 171.57,351.26 170.14,352.40 170.63,354.16 169.10,353.15 167.57,354.16 168.06,352.40 166.63,351.26 168.46,351.18" fill="#1a1a1a"/>
<polygon points="174.60,349.46 175.24,351.18 177.07,351.26 175.64,352.40 176.13,354.16 174.60,353.15 173.07,354.16 173.56,352.40 172.13,351.26 173.96,351.18" fill="#1a1a1a"/>
<line x1="279.80" y1="390.20" x2="306.90" y2="390.20" stroke="#333" stroke-width="1.1"/>
<polygon points="287.70,381.94 288.29,383.52 289.98,383.60 288.66,384.65 289.11,386.28 287.70,385.35 286.29,386.28 286.74,384.65 285.42,383.60 287.11,383.52" fill="#1a1a1a"/>
<polygon points="293.10,381.94 293.69,383.52 295.38,383.60 294.06,384.65 294.51,386.28 293.10,385.35 291.69,386.28 292.14,384.65 290.82,383.60 292.51,383.52" fill="#1a1a1a"/>
<polygon points="298.70,381.94 299.29,383.52 300.98,383.60 299.66,384.65 300.11,386.28 298.70,385.35 297.29,386.28 297.74,384.65 296.42,383.60 298.11,383.52" fill="#1a1a1a"/>
<line x1="341.50" y1="342.20" x2="368.80" y2="342.20" stroke="#333" stroke-width="1.1"/>
<polygon points="355.40,333.76 356.04,335.48 357.87,335.56 356.44,336.70 356.93,338.46 355.40,337.45 353.87,338.46 354.36,336.70 352.93,335.56 354.76,335.48" fill="#1a1a1a"/>
<line x1="403.40" y1="344.00" x2="431.10" y2="344.00" stroke="#333" stroke-width="1.1"/>
<polygon points="417.20,335.36 417.84,337.08 419.67,337.16 418.24,338.30 418.73,340.06 417.20,339.05 415.67,340.06 416.16,338.30 414.73,337.16 416.56,337.08" fill="#1a1a1a"/>
</svg></div></body></html>
